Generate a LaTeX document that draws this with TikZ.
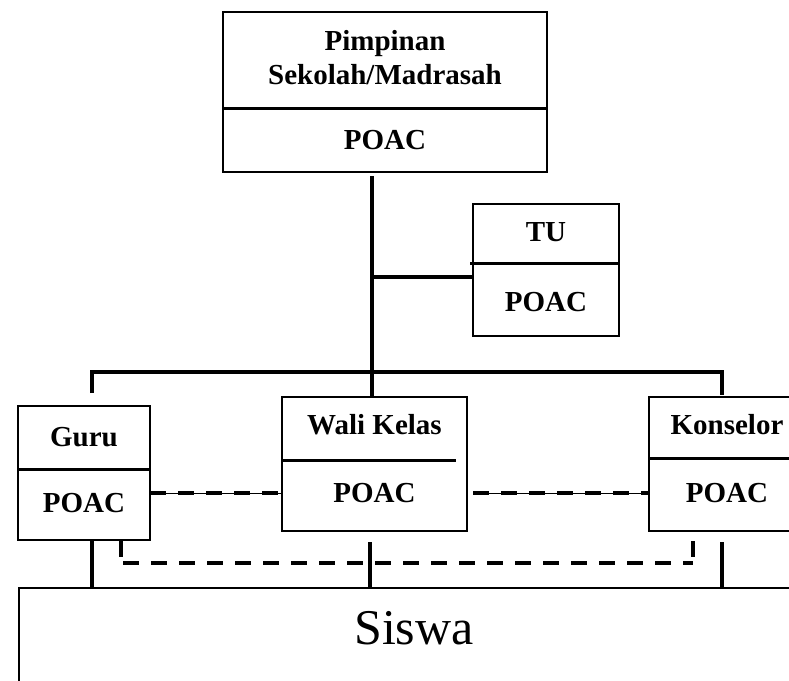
\documentclass[tikz,border=0pt]{standalone}
\usepackage{fontspec}
\setmainfont{Liberation Serif}
\begin{document}
\begin{tikzpicture}[x=1pt,y=-1pt,
  box/.style={draw, line width=1.4pt, inner sep=0pt, outer sep=0pt, fill=white},
  lbl/.style={font=\fontsize{29}{34}\selectfont\bfseries, inner sep=0pt, align=center},
  divider/.style={line width=3pt},
  conn/.style={line width=4.5pt},
  dashconn/.style={line width=3.8pt, dash pattern=on 16pt off 12pt},
  thinline/.style={line width=1pt}]
\useasboundingbox (0,0) rectangle (789,680);
% boxes
\node[box, minimum width=324pt, minimum height=160pt] (pim) at (385,92) {};
\node[box, minimum width=146pt, minimum height=132pt] (tu) at (546,270) {};
\node[box, minimum width=132pt, minimum height=134pt] (guru) at (84,473) {};
\node[box, minimum width=185pt, minimum height=134pt] (wali) at (374.5,464) {};
\node[box, minimum width=156pt, minimum height=134pt] (kons) at (727,464) {};
\node[box, minimum width=800pt, minimum height=140pt, anchor=north west] (siswa) at (19,588) {};
% dividers
\draw[divider] (pim.west |- 0,108) -- (pim.east |- 0,108);
\draw[divider] (470,263) -- (tu.east |- 0,263);
\draw[divider] (guru.west |- 0,469) -- (guru.east |- 0,469);
\draw[divider] (wali.west |- 0,460) -- (456,460);
\draw[divider] (kons.west |- 0,458) -- (789,458);
% labels
\node[lbl] (pimT) at (385,58) {Pimpinan\\Sekolah/Madrasah};
\node[lbl] (pimP) at (385,140) {POAC};
\node[lbl] (tuT) at (546,232) {TU};
\node[lbl] (tuP) at (546,302) {POAC};
\node[lbl] (guruT) at (84,437) {Guru};
\node[lbl] (guruP) at (84,503) {POAC};
\node[lbl] (waliT) at (374.5,425) {Wali Kelas};
\node[lbl] (waliP) at (374.5,493) {POAC};
\node[lbl] (konsT) at (727,425) {Konselor};
\node[lbl] (konsP) at (727,493) {POAC};
\node[font=\fontsize{50}{60}\selectfont, inner sep=0pt] (siswaT) at (414,628) {Siswa};
% coordinates
\coordinate (trTop) at (372,176);
\coordinate (trBus) at (372,372);
\coordinate (trTU) at (372,277);
\coordinate (busL) at (92,372);
\coordinate (busR) at (722,372);
% solid connectors
\draw[conn] (trTop) -- (trBus) -- (372,396);
\draw[conn] (trTU) -- (tu.west |- trTU);
\draw[conn] (92,393) -- (busL) -- (busR) -- (722,395);
\draw[conn] (92,541) -- (siswa.north -| 92,0);
\draw[conn] (370,542) -- (siswa.north -| 370,0);
\draw[conn] (722,542) -- (siswa.north -| 722,0);
% dashed connectors
\draw[thinline] (guru.east |- 0,493) -- (wali.west |- 0,493);
\draw[dashconn] (guru.east |- 0,493) -- (wali.west |- 0,493);
\draw[thinline] (473,493) -- (kons.west |- 0,493);
\draw[dashconn] (473,493) -- (kons.west |- 0,493);
\draw[line width=3.8pt] (121,541) -- (121,557);
\draw[line width=3.8pt] (693,541) -- (693,557);
\draw[dashconn] (123,563) -- (693,563);
\end{tikzpicture}
\end{document}
